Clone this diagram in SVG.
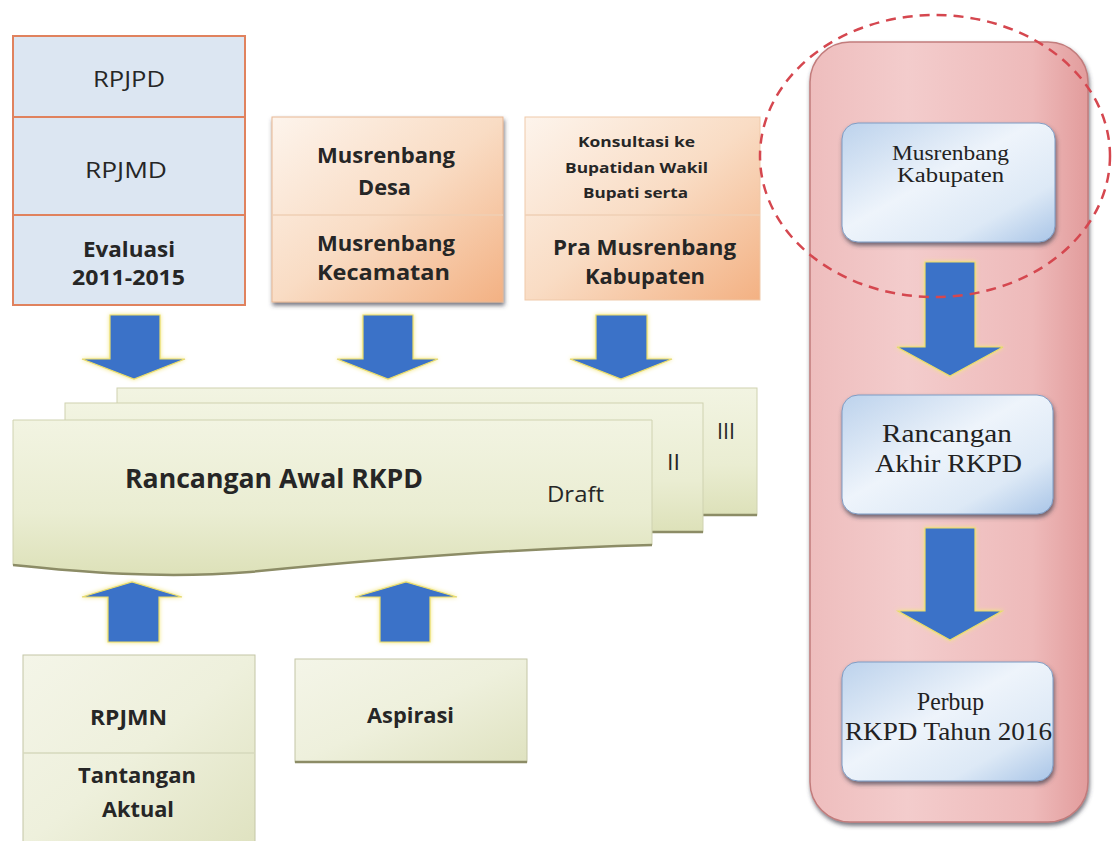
<svg xmlns="http://www.w3.org/2000/svg" width="1112" height="841" viewBox="0 0 1112 841">
<defs>
<linearGradient id="gOrange" x1="0" y1="0" x2="1" y2="1">
<stop offset="0" stop-color="#fdf4ec"/><stop offset="0.5" stop-color="#f9dcc4"/><stop offset="1" stop-color="#f3b183"/>
</linearGradient>
<linearGradient id="gSheet" x1="0" y1="0" x2="0" y2="1">
<stop offset="0" stop-color="#f2f4e2"/><stop offset="0.6" stop-color="#eaedd2"/><stop offset="1" stop-color="#dde1b9"/>
</linearGradient>
<linearGradient id="gBox" x1="0" y1="0" x2="1" y2="1">
<stop offset="0" stop-color="#f4f5e8"/><stop offset="0.5" stop-color="#eef0dc"/><stop offset="1" stop-color="#dfe2c0"/>
</linearGradient>
<linearGradient id="gPink" x1="0" y1="0" x2="1" y2="0">
<stop offset="0" stop-color="#eebdbd"/><stop offset="0.35" stop-color="#f3cccc"/><stop offset="0.8" stop-color="#eebaba"/><stop offset="1" stop-color="#e29c9c"/>
</linearGradient>
<linearGradient id="gBlue" x1="0" y1="0" x2="1" y2="1">
<stop offset="0" stop-color="#bcd2ec"/><stop offset="0.45" stop-color="#eef4fb"/><stop offset="0.75" stop-color="#dde9f6"/><stop offset="1" stop-color="#a9c5e7"/>
</linearGradient>
<filter id="shadow" x="-10%" y="-10%" width="120%" height="125%">
<feDropShadow dx="1" dy="3" stdDeviation="2" flood-color="#3a3a4a" flood-opacity="0.7"/>
</filter>
<filter id="glow" x="-20%" y="-20%" width="140%" height="140%">
<feDropShadow dx="0" dy="0" stdDeviation="2" flood-color="#f3e680" flood-opacity="1"/>
</filter>
<style>
.sb{font-family:"Open Sans","Liberation Sans",sans-serif;font-weight:700;fill:#262626;}
.sr{font-family:"Open Sans","Liberation Sans",sans-serif;font-weight:400;fill:#262626;}
.se{font-family:"Liberation Serif","Times New Roman",serif;fill:#222;}
.arrow{fill:#3b72c8;stroke:#e9dc6c;stroke-width:1.2;filter:url(#glow);}
.bluebox{fill:url(#gBlue);stroke:#7f9cc4;stroke-width:1;filter:url(#shadow);}
</style>
</defs>
<rect width="1112" height="841" fill="#ffffff"/>

<g id="panel-right">
<rect x="810" y="42" width="278" height="780" rx="40" fill="url(#gPink)" stroke="#c27c7c" stroke-width="1.5" filter="url(#shadow)"/>
</g>

<g id="node-rpjpd-column">
<rect x="13" y="36" width="232" height="269" fill="#dce6f2" stroke="#e0825e" stroke-width="2"/>
<line x1="13" y1="117" x2="245" y2="117" stroke="#e0825e" stroke-width="2"/>
<line x1="13" y1="215" x2="245" y2="215" stroke="#e0825e" stroke-width="2"/>
<text class="sr" x="93" y="87" font-size="22" textLength="72" lengthAdjust="spacingAndGlyphs">RPJPD</text>
<text class="sr" x="85" y="178" font-size="22" textLength="82" lengthAdjust="spacingAndGlyphs">RPJMD</text>
<text class="sb" x="83" y="257" font-size="21" textLength="92" lengthAdjust="spacingAndGlyphs">Evaluasi</text>
<text class="sb" x="72" y="285" font-size="21" textLength="113" lengthAdjust="spacingAndGlyphs">2011-2015</text>
</g>

<g id="node-musrenbang-desa">
<rect x="272" y="117" width="231" height="185" fill="url(#gOrange)" stroke="#e7b794" stroke-width="1" filter="url(#shadow)"/>
<line x1="272" y1="215" x2="503" y2="215" stroke="#efcfb5" stroke-width="1.5"/>
<text class="sb" x="317" y="163" font-size="22" textLength="138" lengthAdjust="spacingAndGlyphs">Musrenbang</text>
<text class="sb" x="358" y="195" font-size="22" textLength="53" lengthAdjust="spacingAndGlyphs">Desa</text>
<text class="sb" x="317" y="251" font-size="21" textLength="138" lengthAdjust="spacingAndGlyphs">Musrenbang</text>
<text class="sb" x="317" y="280" font-size="21" textLength="133" lengthAdjust="spacingAndGlyphs">Kecamatan</text>
</g>

<g id="node-konsultasi">
<rect x="525" y="117" width="235" height="183" fill="url(#gOrange)" stroke="#efc9a9" stroke-width="1"/>
<line x1="525" y1="215" x2="760" y2="215" stroke="#efcfb5" stroke-width="1.5"/>
<text class="sb" x="578" y="147" font-size="15" textLength="117" lengthAdjust="spacingAndGlyphs">Konsultasi ke</text>
<text class="sb" x="565" y="173" font-size="15" textLength="143" lengthAdjust="spacingAndGlyphs">Bupatidan Wakil</text>
<text class="sb" x="583" y="198" font-size="15" textLength="105" lengthAdjust="spacingAndGlyphs">Bupati serta</text>
<text class="sb" x="553" y="255" font-size="21" textLength="183" lengthAdjust="spacingAndGlyphs">Pra Musrenbang</text>
<text class="sb" x="585" y="284" font-size="21" textLength="120" lengthAdjust="spacingAndGlyphs">Kabupaten</text>
</g>

<g id="node-draft-iii">
<rect x="117" y="388" width="640" height="127" fill="url(#gSheet)" stroke="#cfd2b0" stroke-width="1"/>
<line x1="703" y1="515" x2="757" y2="515" stroke="#8c8c66" stroke-width="2.5"/>
<text class="sr" x="717" y="439" font-size="21" textLength="18" lengthAdjust="spacingAndGlyphs">III</text>
</g>

<g id="node-draft-ii">
<rect x="65" y="403" width="638" height="129" fill="url(#gSheet)" stroke="#cfd2b0" stroke-width="1"/>
<line x1="652" y1="532" x2="703" y2="532" stroke="#8c8c66" stroke-width="2.5"/>
<text class="sr" x="667" y="470" font-size="21" textLength="13" lengthAdjust="spacingAndGlyphs">II</text>
</g>

<g id="node-rancangan-awal">
<path d="M13,420 H652 V545 C500,549 350,562 250,572 C160,579 80,572 13,565 Z" fill="url(#gSheet)" stroke="#cfd2b0" stroke-width="1"/>
<path d="M652,545 C500,549 350,562 250,572 C160,579 80,572 13,565" fill="none" stroke="#8c8c66" stroke-width="2.5"/>
<text class="sb" x="125" y="488" font-size="27" textLength="298" lengthAdjust="spacingAndGlyphs">Rancangan Awal RKPD</text>
<text class="sr" x="547" y="502" font-size="22" textLength="57" lengthAdjust="spacingAndGlyphs">Draft</text>
</g>

<g id="node-rpjmn">
<rect x="23" y="655" width="232" height="190" fill="url(#gBox)" stroke="#c4c6a6" stroke-width="1"/>
<line x1="23" y1="753" x2="255" y2="753" stroke="#d6d8bc" stroke-width="1.5"/>
<text class="sb" x="90" y="725" font-size="22" textLength="77" lengthAdjust="spacingAndGlyphs">RPJMN</text>
<text class="sb" x="78" y="783" font-size="22" textLength="118" lengthAdjust="spacingAndGlyphs">Tantangan</text>
<text class="sb" x="102" y="817" font-size="22" textLength="72" lengthAdjust="spacingAndGlyphs">Aktual</text>
</g>

<g id="node-aspirasi">
<rect x="295" y="659" width="232" height="103" fill="url(#gBox)" stroke="#c4c6a6" stroke-width="1"/>
<line x1="295" y1="762" x2="527" y2="762" stroke="#8c8c66" stroke-width="2.5"/>
<text class="sb" x="367" y="723" font-size="22" textLength="87" lengthAdjust="spacingAndGlyphs">Aspirasi</text>
</g>

<g id="node-musrenbang-kabupaten">
<rect class="bluebox" x="842" y="123" width="213" height="119" rx="16"/>
<text class="se" x="892" y="160" font-size="20" textLength="117" lengthAdjust="spacingAndGlyphs">Musrenbang</text>
<text class="se" x="897" y="182" font-size="20" textLength="107" lengthAdjust="spacingAndGlyphs">Kabupaten</text>
</g>

<g id="node-rancangan-akhir">
<rect class="bluebox" x="842" y="395" width="211" height="119" rx="16"/>
<text class="se" x="882" y="442" font-size="26" textLength="130" lengthAdjust="spacingAndGlyphs">Rancangan</text>
<text class="se" x="875" y="472" font-size="26" textLength="147" lengthAdjust="spacingAndGlyphs">Akhir RKPD</text>
</g>

<g id="node-perbup">
<rect class="bluebox" x="842" y="662" width="211" height="119" rx="16"/>
<text class="se" x="917" y="710" font-size="26" textLength="67" lengthAdjust="spacingAndGlyphs">Perbup</text>
<text class="se" x="845" y="740" font-size="26" textLength="207" lengthAdjust="spacingAndGlyphs">RKPD Tahun 2016</text>
</g>

<g id="connectors">
<path class="arrow" d="M110,315 H160 V359 H185 L134,379 L82,359 H110 Z"/>
<path class="arrow" d="M363,315 H413 V359 H438 L388,379 L337,359 H363 Z"/>
<path class="arrow" d="M596,315 H647 V359 H672 L621,379 L570,359 H596 Z"/>
<path class="arrow" d="M108,642 H159 V597 H182 L132,582 L82,597 H108 Z"/>
<path class="arrow" d="M380,642 H430 V597 H457 L406,582 L355,597 H380 Z"/>
<path class="arrow" d="M925,262 H975 V347 H1003 L950,376 L897,347 H925 Z"/>
<path class="arrow" d="M925,528 H975 V611 H1002 L950,640 L898,611 H925 Z"/>
</g>

<g id="highlight-ellipse">
<ellipse cx="935" cy="156" rx="175" ry="141" fill="none" stroke="#d5474f" stroke-width="2.5" stroke-dasharray="10 7"/>
</g>
</svg>
